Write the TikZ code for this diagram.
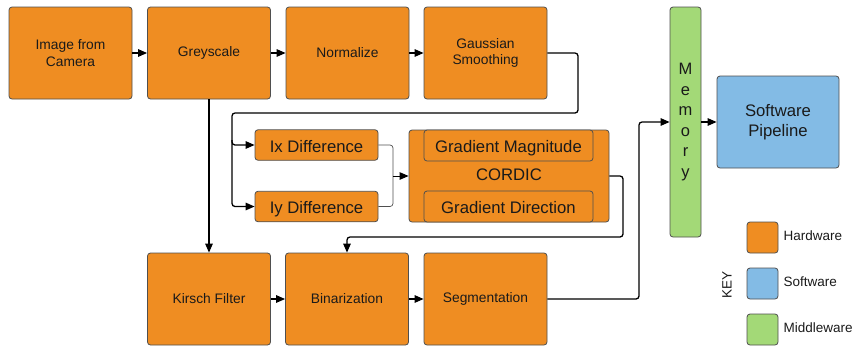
\documentclass[tikz,border=0pt]{standalone}
\usepackage{fontspec}
\setmainfont{Liberation Sans}
\usetikzlibrary{arrows.meta}
\definecolor{hworange}{HTML}{EF8D22}
\definecolor{swblue}{HTML}{83BBE5}
\definecolor{mwgreen}{HTML}{A3D977}
\definecolor{bordergray}{HTML}{4F4F4F}
\definecolor{txt}{HTML}{1A1A1A}
\tikzset{
  box/.style={draw=bordergray, line width=0.8pt, rounded corners=3pt, inner sep=0pt, align=center, text=txt},
  hw/.style={box, fill=hworange},
  big/.style={minimum width=123pt, minimum height=92pt, font=\fontsize{13.8}{16.7}\selectfont},
  small/.style={minimum width=123pt, minimum height=30.5pt, text height=14.4pt, text depth=0pt, font=\fontsize{16.7}{19}\selectfont},
  inner/.style={hw, minimum width=169pt, minimum height=31pt, text height=14.4pt, text depth=0pt, font=\fontsize{16.7}{19}\selectfont},
  conn/.style={line width=1.3pt, black, rounded corners=3pt},
  thin/.style={line width=0.7pt, bordergray, rounded corners=3pt},
  arr/.style={-{Triangle[length=9pt,width=7.5pt]}},
  keybox/.style={box, minimum width=31pt, minimum height=31pt},
  keylabel/.style={anchor=west, text=txt, font=\fontsize{13.5}{16}\selectfont}
}
\begin{document}
\begin{tikzpicture}[x=1pt, y=-1pt]
\useasboundingbox (0,0) rectangle (854,349);
% top row
\node[hw, big] (cam) at (70.5,53) {Image from\\Camera};
\node[hw, big] (grey) at (209,53) {Greyscale};
\node[hw, big] (norm) at (347.5,53) {Normalize};
\node[hw, big] (gauss) at (485.5,53) {Gaussian\\Smoothing};
% middle
\node[hw, small] (ix) at (316.5,145) {Ix Difference};
\node[hw, small] (iy) at (316.5,206.5) {Iy Difference};
\node[hw, minimum width=200pt, minimum height=92pt, text height=9.5pt, text depth=0pt, font=\fontsize{16.7}{19}\selectfont] (cordic) at (509,176) {CORDIC};
\node[inner] (gm) at (508.5,145.5) {Gradient Magnitude};
\node[inner] (gd) at (508.5,206.5) {Gradient Direction};
% bottom row
\node[hw, big] (kirsch) at (209,299) {Kirsch Filter};
\node[hw, big] (bin) at (347,299) {Binarization};
\node[hw, big] (seg) at (485.5,299) {Segmentation};
% memory & software
\node[box, fill=mwgreen, minimum width=31pt, minimum height=230pt, font=\fontsize{16.5}{20.5}\selectfont] (mem) at (685.5,122) {M\\e\\m\\o\\r\\y};
\node[box, fill=swblue, minimum width=122pt, minimum height=92pt, font=\fontsize{16.7}{20}\selectfont] (sw) at (778,122) {Software\\Pipeline};
% key
\node[keybox, fill=hworange] (khw) at (762.5,237.5) {};
\node[keybox, fill=swblue] (ksw) at (762.5,283.5) {};
\node[keybox, fill=mwgreen] (kmw) at (762.5,329.5) {};
\node[keylabel] (lhw) at (780,236) {Hardware};
\node[keylabel] (lsw) at (780,282) {Software};
\node[keylabel] (lmw) at (780,328) {Middleware};
\node[text=txt, font=\fontsize{13.5}{16}\selectfont, rotate=90] (key) at (727,285) {KEY};
% connectors top row
\draw[conn, arr] (cam.east) -- (grey.west);
\draw[conn, arr] (grey.east) -- (norm.west);
\draw[conn, arr] (norm.east) -- (gauss.west);
% gaussian to Ix/Iy
\coordinate (g1) at (578,53);
\coordinate (g2) at (578,113);
\coordinate (g3) at (232,113);
\coordinate (g4) at (232,140);
\draw[conn] (gauss.east) -- (g1) -- (g2) -- (g3) -- (g4);
\draw[conn, arr] (g4) -- (232,145) -- (ix.west);
\draw[conn, arr] (g4) -- (232,206.5) -- (iy.west);
% Ix/Iy to CORDIC
\coordinate (m) at (393,176);
\draw[thin] (ix.east) -- (393,145) -- (m);
\draw[thin] (iy.east) -- (393,206.5) -- (m);
\draw[conn, arr, line width=1pt] (m) -- (cordic.west);
% greyscale to kirsch
\draw[conn, arr] (grey.south) -- (kirsch.north);
% cordic to binarization
\draw[conn, arr] (cordic.east) -- (623,176) -- (623,237) -- (347,237) -- (bin.north);
% bottom row
\draw[conn, arr] (kirsch.east) -- (bin.west);
\draw[conn, arr] (bin.east) -- (seg.west);
% segmentation to memory
\draw[conn, arr] (seg.east) -- (639,299) -- (639,122) -- (mem.west);
% memory to software
\draw[conn, arr] (mem.east) -- (sw.west);
\end{tikzpicture}
\end{document}
